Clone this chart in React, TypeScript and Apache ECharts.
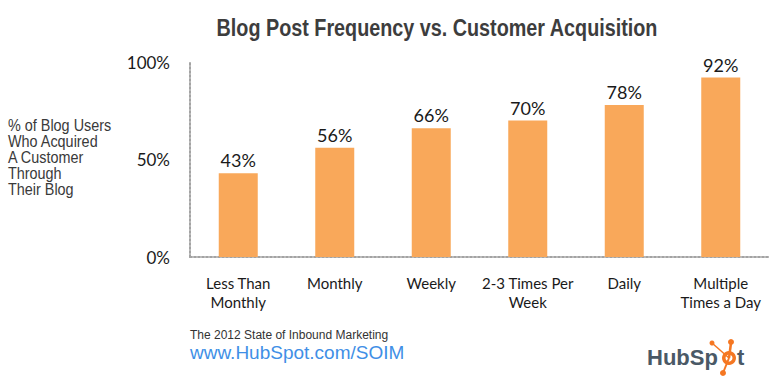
import React, { useEffect, useRef } from "react";
import * as echarts from "echarts";

const categories = [
  "Less Than\nMonthly",
  "Monthly",
  "Weekly",
  "2-3 Times Per\nWeek",
  "Daily",
  "Multiple\nTimes a Day",
];
const values = [43, 56, 66, 70, 78, 92];
const titleText = "Blog Post Frequency vs. Customer Acquisition";
const yNameLines = ["% of Blog Users", "Who Acquired", "A Customer", "Through", "Their Blog"];
const footerLine1 = "The 2012 State of Inbound Marketing";
const footerLine2 = "www.HubSpot.com/SOIM";

export default function App() {
  const ref = useRef<HTMLDivElement>(null);
  useEffect(() => {
    document.body.style.margin = "0";
    const chart = echarts.init(ref.current!, undefined, { renderer: "svg" });
    const orange = "#f57722";
    const gray = "#a3a3a3";
    chart.setOption({
      animation: false,
      backgroundColor: "#ffffff",
      grid: { left: 190, right: 11, top: 62, bottom: 130 },
      xAxis: {
        type: "category",
        data: categories,
        axisTick: { show: false },
        axisLine: { lineStyle: { type: "dotted", color: gray, width: 2 } },
        axisLabel: {
          interval: 0,
          margin: 16,
          fontFamily: "Lato",
          fontSize: 15,
          lineHeight: 19,
          color: "#1a1a1a",
        },
      },
      yAxis: {
        type: "value",
        min: 0,
        max: 100,
        interval: 50,
        splitLine: { show: false },
        axisTick: { show: false },
        axisLine: { show: true, lineStyle: { type: "dotted", color: gray, width: 2 } },
        axisLabel: {
          formatter: "{value}%",
          margin: 20,
          fontFamily: "Lato",
          fontSize: 17,
          color: "#1a1a1a",
        },
      },
      series: [
        {
          type: "bar",
          data: values,
          barWidth: 39,
          itemStyle: { color: "#f9a85a" },
          label: {
            show: true,
            position: "top",
            distance: 4,
            formatter: "{c}%",
            fontFamily: "Lato",
            fontSize: 18,
            color: "#1a1a1a",
          },
        },
      ],
      graphic: [
        {
          type: "text",
          x: 437,
          y: 28,
          scaleX: 0.86,
          style: {
            text: titleText,
            fontFamily: "Liberation Sans",
            fontWeight: "bold",
            fontSize: 23,
            fill: "#3d3d3d",
            align: "center",
            verticalAlign: "middle",
          },
        },
        {
          type: "text",
          x: 8,
          y: 117,
          scaleX: 0.9,
          style: {
            text: yNameLines.join("\n"),
            fontFamily: "Liberation Sans",
            fontSize: 16,
            lineHeight: 16,
            fill: "#3a3a3a",
            align: "left",
            verticalAlign: "top",
          },
        },
        {
          type: "text",
          x: 190,
          y: 334,
          scaleX: 0.89,
          style: {
            text: footerLine1,
            fontFamily: "Liberation Sans",
            fontSize: 13.5,
            fill: "#333333",
            align: "left",
            verticalAlign: "middle",
          },
        },
        {
          type: "text",
          x: 190,
          y: 352,
          style: {
            text: footerLine2,
            fontFamily: "Liberation Sans",
            fontSize: 19,
            fill: "#3f8fe6",
            align: "left",
            verticalAlign: "middle",
          },
        },
        {
          type: "group",
          z: 100,
          children: [
            {
              type: "text",
              x: 647,
              y: 357,
              style: {
                text: "HubSp",
                fontFamily: "Liberation Sans",
                fontWeight: "bold",
                fontSize: 22,
                fill: "#4a5966",
                align: "left",
                verticalAlign: "middle",
              },
            },
            {
              type: "text",
              x: 737,
              y: 357,
              style: {
                text: "t",
                fontFamily: "Liberation Sans",
                fontWeight: "bold",
                fontSize: 22,
                fill: "#4a5966",
                align: "left",
                verticalAlign: "middle",
              },
            },
            { type: "line", shape: { x1: 729, y1: 358, x2: 731, y2: 343 }, style: { stroke: orange, lineWidth: 2.5 } },
            { type: "line", shape: { x1: 729, y1: 358, x2: 712, y2: 343 }, style: { stroke: orange, lineWidth: 1.5 } },
            { type: "line", shape: { x1: 729, y1: 358, x2: 723, y2: 373 }, style: { stroke: orange, lineWidth: 2 } },
            { type: "ring", shape: { cx: 729, cy: 358, r: 7, r0: 3.5 }, style: { fill: orange } },
            { type: "circle", shape: { cx: 731, cy: 342, r: 3 }, style: { fill: orange } },
            { type: "circle", shape: { cx: 712, cy: 343, r: 2.5 }, style: { fill: orange } },
            { type: "circle", shape: { cx: 723, cy: 373, r: 3 }, style: { fill: orange } },
          ],
        },
      ],
    });
    return () => chart.dispose();
  }, []);
  return (
    <div
      ref={ref}
      style={{ position: "absolute", left: 0, top: 0, width: 780, height: 387 }}
    />
  );
}
